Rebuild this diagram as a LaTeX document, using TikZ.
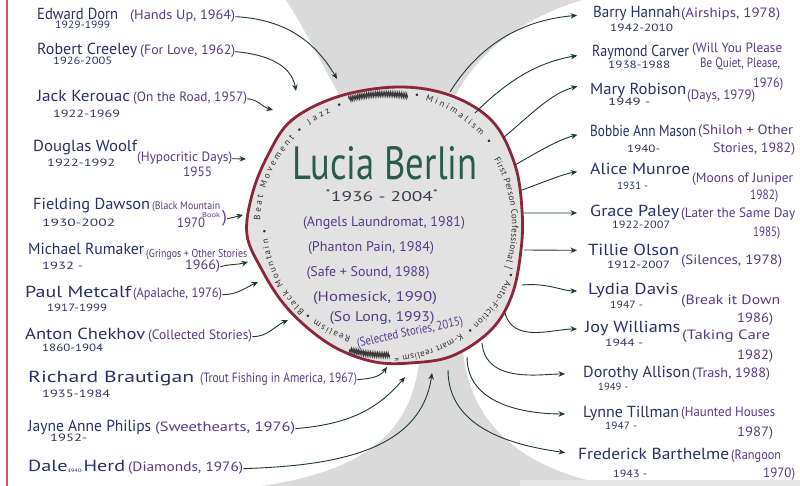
\documentclass[tikz,border=0pt]{standalone}
\usepackage{fontspec}
\setmainfont{PT Sans}
\usepackage{graphicx}
\usetikzlibrary{arrows.meta,decorations.text,decorations.pathmorphing}
\definecolor{namec}{HTML}{28306A}
\definecolor{titlec}{HTML}{553A8C}
\definecolor{datec}{HTML}{2C3466}
\definecolor{arrc}{HTML}{1C3A2E}
\definecolor{luciac}{HTML}{2A5C4C}
\definecolor{ringc}{HTML}{8C2638}
\definecolor{ringtxt}{HTML}{2F2F2F}
\definecolor{scribc}{HTML}{3A3A3A}
\definecolor{shadec}{HTML}{DADADA}
\definecolor{hubfill}{HTML}{E2E2E2}
\definecolor{marginred}{HTML}{C85A68}
\definecolor{cdate}{HTML}{3B3B4F}
\newcommand\W[2]{\resizebox{#1pt}{\height}{#2}}
\newcommand\ringf{\fontsize{9}{10}\selectfont}
\begin{document}
\begin{tikzpicture}[x=1pt,y=1pt,
 nm/.style={anchor=base west,inner sep=0pt,text=namec,font=\fontsize{16}{16}\selectfont},
 tt/.style={anchor=base west,inner sep=0pt,text=titlec,font=\fontsize{13.5}{13.5}\selectfont},
 dt/.style={anchor=base west,inner sep=0pt,text=datec,font=\fontsize{10.5}{10.5}\selectfont},
 ct/.style={anchor=base,inner sep=0pt,text=titlec,font=\fontsize{14}{14}\selectfont},
 arr/.style={draw=arrc,line width=0.9pt,-{Stealth[length=6.5pt,width=5.5pt]}},
 ringtext/.style={decorate,decoration={text along path,text align=fit to path,text color=ringtxt}},
 scrib/.style={draw=scribc,line width=1.1pt,decorate,decoration={zigzag,segment length=1.8pt,amplitude=2pt}},
]
\useasboundingbox (0,0) rectangle (800,486);
\fill[white] (0,0) rectangle (800,486);
% pencil shading
\fill[shadec] (286,486) -- (582,486) .. controls (530,470) and (478,440) .. (450,380) -- (345,380) .. controls (318,430) and (300,465) .. (286,486) -- cycle;
\fill[shadec] (262,0) .. controls (360,15) and (415,50) .. (420,135) -- (463,135) .. controls (470,60) and (525,15) .. (615,0) -- cycle;
\fill[shadec!70] (520,0) rectangle (800,6);
% notebook margin
\draw[marginred,line width=1.2pt] (7,0) -- (7,486);
% central circle
\draw[ringc,line width=2.8pt,fill=hubfill] plot[smooth cycle,tension=0.6] coordinates {
 (400,399) (452,390) (493,364) (515,321) (522,276) (521,236) (512,191) (491,156)
 (452,130) (410,123) (375,124) (340,136) (310,156) (283,183) (262,216) (247,251)
 (252,291) (268,331) (292,366) (340,390)};
\coordinate (ctr) at (385,261);
% ring text
\path[ringtext,decoration={text={|\ringf|Realism •}}] (ctr) ++(-107:117) arc[start angle=-107,end angle=-131,radius=117];
\path[ringtext,decoration={text={|\ringf|Black Mountain •}}] (ctr) ++(-133:118) arc[start angle=-133,end angle=-178,radius=118];
\path[ringtext,decoration={text={|\ringf|Beat Movement •}}] (ctr) ++(178:125) arc[start angle=178,end angle=131,radius=125];
\path[ringtext,decoration={text={|\ringf|Jazz •}}] (ctr) ++(127:125) arc[start angle=127,end angle=110,radius=125];
\draw[scrib] (ctr) ++(106:131) arc[start angle=106,end angle=80,radius=131];
\path[ringtext,decoration={text={|\ringf|• Minimalism •}}] (ctr) ++(77:131) arc[start angle=77,end angle=38,radius=131];
\path[ringtext,decoration={text={|\ringf|First Person Confessional}}] (ctr) ++(31:127) arc[start angle=31,end angle=-17,radius=127];
\draw[ringtxt,line width=0.6pt] (ctr) ++(-19:126) -- ++(-19:9);
\path[ringtext,decoration={text={|\ringf|• Auto-Fiction •}}] (ctr) ++(-21:133) arc[start angle=-21,end angle=-52,radius=133];
\path[ringtext,decoration={text={|\ringf|K-mart realism =}}] (ctr) ++(-55:132) arc[start angle=-55,end angle=-86,radius=132];
\draw[scrib] (ctr) ++(-88:130) arc[start angle=-88,end angle=-106,radius=130];
% centre texts
\node[anchor=base,inner sep=0pt,text=luciac,font=\fontsize{36}{36}\selectfont] (lucia) at (385,306) {\resizebox{185pt}{33pt}{Lucia Berlin}};
\node[anchor=base,inner sep=0pt,text=cdate,font=\fontsize{14}{14}\selectfont] (ldate) at (382,284) {\W{113}{\textsuperscript{*}1936 - 2004\textsuperscript{*}}};
\node[ct] (c1) at (384,259) {\W{162}{(Angels Laundromat, 1981)}};
\node[ct] (c2) at (371,234) {\W{126}{(Phanton Pain, 1984)}};
\node[ct] (c3) at (368,209) {\W{123}{(Safe + Sound, 1988)}};
\node[ct] (c4) at (375,184) {\W{124}{(Homesick, 1990)}};
\node[ct] (c5) at (382,164) {\W{105}{(So Long, 1993)}};
\node[ct,anchor=center,rotate=12,font=\fontsize{12.5}{12.5}\selectfont] (c6) at (410,153) {\W{108}{(Selected Stories, 2015)}};
% left column
\node[nm] (n1) at (37,466) {\W{81}{Edward Dorn}};
\node[tt] (t1) at (130,466) {\W{105}{(Hands Up, 1964)}};
\node[dt] (d1) at (55,457) {\W{55}{1929-1999}};
\node[nm] (n2) at (37,431) {\W{100}{Robert Creeley}};
\node[tt] (t2) at (140,431) {\W{95}{(For Love, 1962)}};
\node[dt] (d2) at (53,421) {\W{59}{1926-2005}};
\node[nm] (n3) at (37,384) {\W{93}{Jack Kerouac}};
\node[tt] (t3) at (133,384) {\W{114}{(On the Road, 1957)}};
\node[dt] (d3) at (53,368) {\W{67}{1922-1969}};
\node[nm] (n4) at (33,334) {\W{104}{Douglas Woolf}};
\node[tt] (t4) at (137,324) {\W{95}{(Hypocritic Days)}};
\node[tt] (t4b) at (183,309) {\W{29}{1955}};
\node[dt] (d4) at (47,319) {\W{68}{1922-1992}};
\node[nm] (n5) at (33,276) {\W{117}{Fielding Dawson}};
\node[tt,font=\fontsize{11}{11}\selectfont] (t5) at (152,276) {\W{68}{(Black Mountain}};
\node[tt,font=\fontsize{7}{7}\selectfont] (t5b) at (202,268) {\W{18}{Book}};
\node[tt,font=\fontsize{17}{17}\selectfont] (t5p) at (222,263) {)};
\node[tt] (t5c) at (177,258) {\W{28}{1970}};
\node[dt] (d5) at (42,259) {\W{73}{1930-2002}};
\node[nm] (n6) at (28,231) {\W{116}{Michael Rumaker}};
\node[tt,font=\fontsize{11.5}{11.5}\selectfont] (t6) at (146,228) {\W{101}{(Gringos + Other Stories}};
\node[tt] (t6b) at (185,216) {\W{35}{1966)}};
\node[dt] (d6) at (42,216) {\W{41}{1932 -}};
\node[nm] (n7) at (25,188) {\W{106}{Paul Metcalf}};
\node[tt] (t7) at (133,188) {\W{89}{(Apalache, 1976)}};
\node[dt] (d7) at (47,174) {\W{60}{1917-1999}};
\node[nm] (n8) at (25,146) {\W{120}{Anton Chekhov}};
\node[tt] (t8) at (148,146) {\W{104}{(Collected Stories)}};
\node[dt] (d8) at (42,134) {\W{61}{1860-1904}};
\node[nm] (n9) at (28,103) {\W{166}{Richard Brautigan}};
\node[tt] (t9) at (200,103) {\W{157}{(Trout Fishing in America, 1967)}};
\node[dt] (d9) at (42,88) {\W{68}{1935-1984}};
\node[nm] (n10) at (28,54) {\W{123}{Jayne Anne Philips}};
\node[tt] (t10) at (155,54) {\W{140}{(Sweethearts, 1976)}};
\node[dt] (d10) at (50,44) {\W{37}{1952-}};
\node[nm] (n11) at (28,14) {\W{97}{Dale\raisebox{-1pt}{\fontsize{5}{5}\selectfont 1940-}Herd}};
\node[tt] (t11) at (128,14) {\W{115}{(Diamonds, 1976)}};
% left arrow ends
\coordinate (e1) at (337,407);
\coordinate (e2) at (296,395);
\coordinate (e3) at (273,376);
\coordinate (e4) at (246,327);
\coordinate (e5) at (243,271);
\coordinate (e6) at (248,224);
\coordinate (e7) at (258,204);
\coordinate (e8) at (288,166);
\coordinate (e9) at (387,119);
\coordinate (e10) at (405,109);
\coordinate (e11) at (432,113);
\draw[arr] (t1.east) to[out=-3,in=120] (e1);
\draw[arr] (t2.east) to[out=-5,in=100] (e2);
\draw[arr] (t3.east) to[out=-5,in=165] (e3);
\draw[arr] (t4.east) -- (e4);
\draw[arr] (t5p.east) -- (e5);
\draw[arr] (t6b.east) to[out=15,in=195] (e6);
\draw[arr] (t7.east) to[out=0,in=205] (e7);
\draw[arr] (t8.east) to[out=0,in=205] (e8);
\draw[arr] (t9.east) to[out=5,in=235] (e9);
\draw[arr] (t10.east) to[out=5,in=230] (e10);
\draw[arr] (t11.east) to[out=2,in=262] (e11);
% right column
\node[nm] (rn1) at (593,468) {\W{87}{Barry Hannah}};
\node[tt] (rt1) at (681,468) {\W{99}{(Airships, 1978)}};
\node[dt] (rd1) at (610,454) {\W{63}{1942-2010}};
\node[nm] (rn2) at (592,429) {\W{97}{Raymond Carver}};
\node[tt] (rt2) at (692,433) {\W{90}{(Will You Please}};
\node[tt] (rt2b) at (700,418) {\W{80}{Be Quiet, Please,}};
\node[tt] (rt2c) at (753,398) {\W{30}{1976)}};
\node[dt] (rd2) at (608,417) {\W{62}{1938-1988}};
\node[nm] (rn3) at (590,391) {\W{96}{Mary Robison}};
\node[tt] (rt3) at (687,386) {\W{68}{(Days, 1979)}};
\node[dt] (rd3) at (608,380) {\W{42}{1949 -}};
\node[nm] (rn4) at (590,349) {\W{106}{Bobbie Ann Mason}};
\node[tt] (rt4) at (698,351) {\W{95}{(Shiloh + Other}};
\node[tt] (rt4b) at (713,333) {\W{82}{Stories, 1982)}};
\node[dt] (rd4) at (627,333) {\W{33}{1940-}};
\node[nm] (rn5) at (590,311) {\W{100}{Alice Munroe}};
\node[tt] (rt5) at (692,303) {\W{101}{(Moons of Juniper}};
\node[tt] (rt5b) at (750,286) {\W{28}{1982)}};
\node[dt] (rd5) at (617,296) {\W{31}{1931 -}};
\node[nm] (rn6) at (590,269) {\W{89}{Grace Paley}};
\node[tt] (rt6) at (681,268) {\W{114}{(Later the Same Day}};
\node[tt] (rt6b) at (753,249) {\W{27}{1985)}};
\node[dt] (rd6) at (612,257) {\W{58}{1922-2007}};
\node[nm] (rn7) at (588,230) {\W{91}{Tillie Olson}};
\node[tt] (rt7) at (681,221) {\W{101}{(Silences, 1978)}};
\node[dt] (rd7) at (607,217) {\W{63}{1912-2007}};
\node[nm] (rn8) at (588,191) {\W{90}{Lydia Davis}};
\node[tt] (rt8) at (681,181) {\W{99}{(Break it Down}};
\node[tt] (rt8b) at (737,163) {\W{36}{1986)}};
\node[dt] (rd8) at (610,177) {\W{33}{1947 -}};
\node[nm] (rn9) at (585,153) {\W{95}{Joy Williams}};
\node[tt] (rt9) at (682,146) {\W{88}{(Taking Care}};
\node[tt] (rt9b) at (737,126) {\W{36}{1982)}};
\node[dt] (rd9) at (605,139) {\W{38}{1944 -}};
\node[nm] (rn10) at (583,108) {\W{107}{Dorothy Allison}};
\node[tt] (rt10) at (692,108) {\W{78}{(Trash, 1988)}};
\node[dt] (rd10) at (598,95) {\W{30}{1949 -}};
\node[nm] (rn11) at (583,68) {\W{96}{Lynne Tillman}};
\node[tt] (rt11) at (681,69) {\W{94}{(Haunted Houses}};
\node[tt] (rt11b) at (737,49) {\W{36}{1987)}};
\node[dt] (rd11) at (605,56) {\W{32}{1947 -}};
\node[nm] (rn12) at (578,26) {\W{151}{Frederick Barthelme}};
\node[tt] (rt12) at (731,26) {\W{50}{(Rangoon}};
\node[tt] (rt12b) at (763,8) {\W{32}{1970)}};
\node[dt] (rd12) at (613,8) {\W{34}{1943 -}};
% right arrow starts (on the circle)
\coordinate (s1) at (450,394);
\coordinate (s2) at (475,373);
\coordinate (s3) at (503,348);
\coordinate (s4) at (515,321);
\coordinate (s5) at (522,296);
\coordinate (s6) at (524,273);
\coordinate (s7) at (524,236);
\coordinate (s8) at (522,201);
\coordinate (s9) at (505,173);
\coordinate (s10) at (482,143);
\coordinate (s11) at (467,129);
\coordinate (s12) at (448,116);
\draw[arr,shorten >=16pt] (s1) to[out=58,in=185] (rn1.west);
\draw[arr,shorten >=15pt] (s2) to[out=45,in=190] (rn2.west);
\draw[arr,shorten >=13pt] (s3) to[out=40,in=195] ([yshift=8pt]rn3.west);
\draw[arr,shorten >=13pt] (s4) to[out=30,in=195] (rn4.west);
\draw[arr,shorten >=13pt] (s5) to[out=20,in=190] (rn5.west);
\draw[arr,shorten >=13pt] (s6) -- (rn6.west);
\draw[arr,shorten >=11pt] (s7) -- (rn7.west);
\draw[arr,shorten >=11pt] (s8) to[out=5,in=180] (rn8.west);
\draw[arr,shorten >=8pt] (s9) to[out=-75,in=180] (rn9.west);
\draw[arr,shorten >=18pt] (s10) to[out=-85,in=180] (rn10.west);
\draw[arr,shorten >=18pt] (s11) to[out=-90,in=180] (rn11.west);
\draw[arr,shorten >=13pt] (s12) to[out=-90,in=172] (rn12.west);
\end{tikzpicture}
\end{document}
